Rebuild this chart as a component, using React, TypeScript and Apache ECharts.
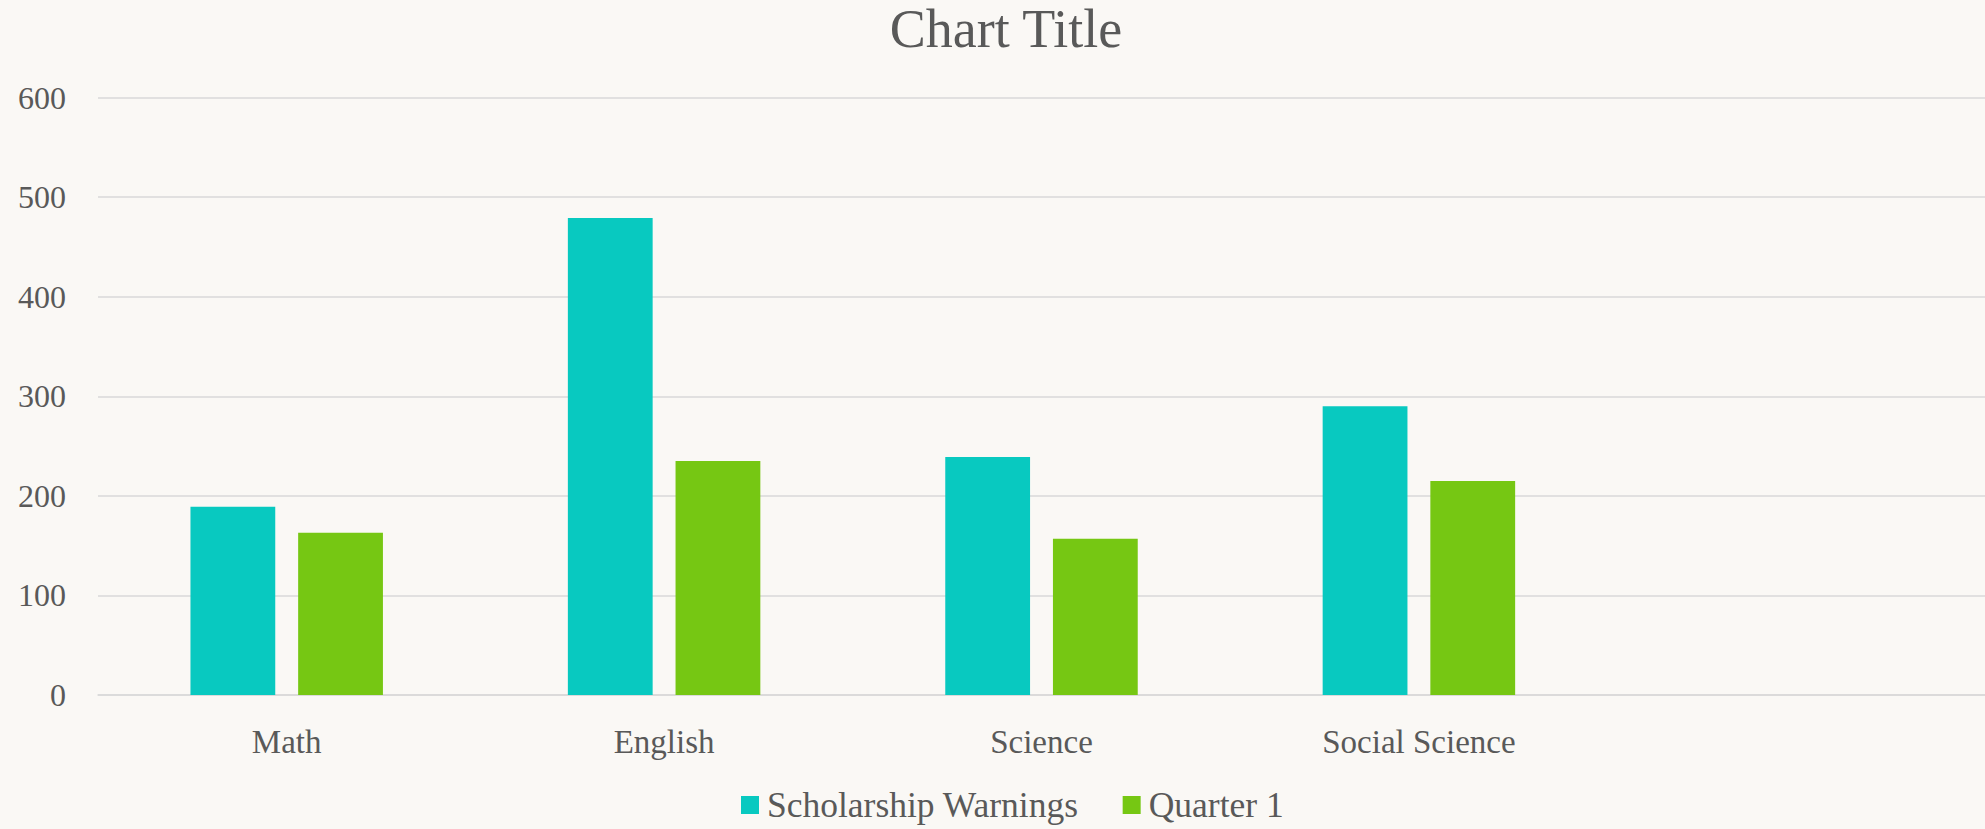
import React, { useEffect, useRef } from "react";
import * as echarts from "echarts";

const categories = ["Math", "English", "Science", "Social Science", ""];
const scholarshipWarnings = [189, 479, 239, 290, null];
const quarter1 = [163, 235, 157, 215, null];
const seriesNames = ["Scholarship Warnings", "Quarter 1"];
const yTicks = { min: 0, max: 600, interval: 100 };

const FONT = "'Liberation Serif', 'DejaVu Serif', serif";
const TEXT = "#595959";

export default function App() {
  const ref = useRef<HTMLDivElement>(null);
  useEffect(() => {
    if (!ref.current) return;
    const chart = echarts.init(ref.current, null, { renderer: "svg" });
    chart.setOption({
      animation: false,
      backgroundColor: "#FAF8F5",
      textStyle: { fontFamily: FONT, color: TEXT },
      graphic: [
        {
          type: "text",
          x: 1006,
          y: 29,
          style: {
            text: "Chart Title",
            fontFamily: FONT,
            fontSize: 54,
            fill: TEXT,
            align: "center",
            verticalAlign: "middle",
          },
        },
      ],
      legend: {
        data: seriesNames,
        left: 741,
        top: 787,
        padding: 0,
        itemWidth: 18,
        itemHeight: 18,
        itemGap: 44,
        icon: "rect",
        textStyle: { fontFamily: FONT, fontSize: 35.5, color: TEXT, padding: [0, 0, 0, 3] },
      },
      grid: { left: 98, right: 0, top: 97.5, bottom: 134, containLabel: false },
      xAxis: {
        type: "category",
        data: categories,
        axisLine: { show: true, lineStyle: { color: "#D9D9D9", width: 1.5 } },
        axisTick: { show: false },
        axisLabel: { fontFamily: FONT, fontSize: 33, color: TEXT, margin: 30 },
      },
      yAxis: {
        type: "value",
        min: yTicks.min,
        max: yTicks.max,
        interval: yTicks.interval,
        axisLine: { show: false },
        axisTick: { show: false },
        axisLabel: { fontFamily: FONT, fontSize: 32, color: TEXT, margin: 32 },
        splitLine: { lineStyle: { color: "#D9D9D9", width: 1.5 } },
      },
      series: [
        {
          name: seriesNames[0],
          type: "bar",
          data: scholarshipWarnings,
          itemStyle: { color: "#08C9C0" },
          barGap: "27%",
          barCategoryGap: "49%",
        },
        {
          name: seriesNames[1],
          type: "bar",
          data: quarter1,
          itemStyle: { color: "#76C713" },
          barGap: "27%",
          barCategoryGap: "49%",
        },
      ],
    });
    return () => chart.dispose();
  }, []);
  return <div ref={ref} style={{ width: 1985, height: 829, position: "absolute", left: 0, top: 0 }} />;
}
